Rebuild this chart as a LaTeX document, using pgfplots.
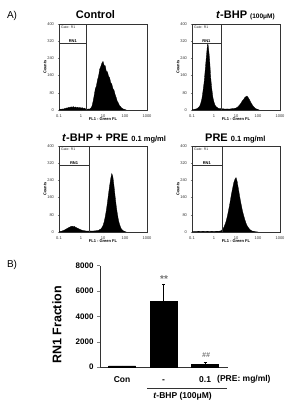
\documentclass[border=0pt]{standalone}
\usepackage{pgfplots}
\pgfplotsset{compat=1.18}
\usepackage{fontspec}
\setmainfont{Liberation Sans}
\pgfplotstableread{
x y
-1.00 2
-0.95 4
-0.90 3
-0.85 5
-0.80 4
-0.75 7
-0.70 6
-0.65 10
-0.60 9
-0.55 13
-0.50 11
-0.45 15
-0.40 12
-0.35 16
-0.30 11
-0.25 14
-0.20 10
-0.15 13
-0.10 9
-0.05 12
0.00 8
0.05 11
0.10 7
0.15 9
0.20 5
0.25 6
0.30 3
0.35 5
0.40 4
0.45 9
0.50 18
0.55 40
0.60 68
0.65 98
0.70 112
0.75 140
0.80 158
0.85 190
0.90 202
0.95 218
1.00 226
1.05 208
1.10 206
1.15 180
1.20 178
1.25 158
1.30 150
1.35 128
1.40 120
1.45 100
1.50 92
1.55 72
1.60 58
1.65 40
1.70 32
1.75 20
1.80 15
1.85 9
1.90 6
1.95 3
2.00 2
2.05 0
}\ctrl
\pgfplotstableread{
x y
-1.00 1
-0.95 2
-0.90 2
-0.85 4
-0.80 5
-0.75 8
-0.70 12
-0.65 18
-0.60 32
-0.55 52
-0.50 88
-0.45 128
-0.40 185
-0.35 245
-0.30 300
-0.28 310
-0.25 288
-0.20 235
-0.15 150
-0.10 98
-0.05 58
0.00 36
0.05 22
0.10 15
0.15 11
0.20 8
0.25 6
0.30 7
0.35 5
0.40 6
0.50 4
0.60 5
0.70 4
0.80 6
0.90 7
1.00 9
1.05 12
1.10 16
1.15 22
1.20 28
1.25 36
1.30 44
1.35 50
1.40 58
1.45 62
1.50 65
1.55 58
1.60 50
1.65 40
1.70 30
1.75 22
1.80 15
1.85 10
1.90 6
1.95 4
2.00 2
2.05 0
}\tbhp
\pgfplotstableread{
x y
-1.00 1
-0.95 2
-0.90 3
-0.85 5
-0.80 7
-0.75 9
-0.70 12
-0.65 15
-0.60 18
-0.55 21
-0.50 23
-0.45 26
-0.40 27
-0.35 25
-0.30 26
-0.25 22
-0.20 20
-0.15 17
-0.10 15
-0.05 12
0.00 10
0.05 8
0.10 7
0.15 6
0.20 5
0.30 4
0.40 5
0.50 4
0.60 5
0.70 6
0.75 7
0.80 8
0.85 11
0.90 14
0.95 20
1.00 30
1.05 46
1.10 70
1.15 100
1.20 136
1.25 176
1.30 214
1.35 248
1.40 272
1.45 256
1.50 214
1.55 166
1.60 122
1.65 86
1.70 56
1.75 36
1.80 21
1.85 12
1.90 7
1.95 4
2.00 2
2.05 0
}\tbhppre
\pgfplotstableread{
x y
-1.00 1
-0.90 2
-0.80 2
-0.70 3
-0.60 2
-0.50 3
-0.40 2
-0.30 3
-0.20 2
-0.10 3
0.00 2
0.10 3
0.20 3
0.25 4
0.30 5
0.35 8
0.40 14
0.45 22
0.50 35
0.55 50
0.60 70
0.65 95
0.70 120
0.75 150
0.80 180
0.85 205
0.90 230
0.95 245
1.00 253
1.05 236
1.10 206
1.15 176
1.20 146
1.25 120
1.30 95
1.35 76
1.40 58
1.45 42
1.50 30
1.55 22
1.60 15
1.65 10
1.70 6
1.75 4
1.80 3
1.90 1
2.00 0
}\pre
\pgfplotsset{
  histo/.style={
    scale only axis, width=88pt, height=86pt,
    xmin=-1, xmax=3, ymin=0, ymax=400,
    xtick={-1,0,1,2,3}, xticklabels={0.1,1,10,100,1000},
    ytick={0,80,160,240,320,400},
    tick pos=left, tick align=outside, major tick length=1.5pt,
    tick label style={font=\fontsize{4}{4}\selectfont, text=black!80},
    /pgf/number format/assume math mode=true,
    axis line style={line width=0.4pt, black!80},
    xlabel={FL1 - Green FL}, ylabel={Counts},
    label style={font=\fontsize{4}{4}\selectfont\bfseries},
    xlabel style={at={(axis description cs:0.5,-0.105)}, anchor=center},
    ylabel style={at={(axis description cs:-0.16,0.5)}, anchor=center},
  },
  gate/.style={black!80, line width=0.4pt},
}
\newcommand{\gatepanel}[1]{%
  \addplot[gate] coordinates {(#1,0) (#1,400)};
  \addplot[gate] coordinates {(-1,310) (#1,310)};
  \node[font=\fontsize{4}{4}\selectfont\bfseries, anchor=south, inner sep=0.6pt] at (axis cs:{(-1+#1)/2},310) {RN1};
  \node[font=\fontsize{3.5}{3.5}\selectfont, anchor=north west, inner sep=1pt, text=black!80] at (rel axis cs:0.01,0.995) {Gate: R1};
}
\begin{document}
\begin{tikzpicture}[x=1pt,y=1pt]
\path[use as bounding box] (0,0) rectangle (287,403);

% panel labels
\node[font=\fontsize{10}{10}\selectfont, anchor=base] at (12,384) {A)};
\node[font=\fontsize{10}{10}\selectfont, anchor=base] at (12,135) {B)};

% titles
\node[font=\fontsize{11}{11}\selectfont\bfseries, anchor=base] at (95.5,384) {Control};
\node[font=\fontsize{11}{11}\selectfont\bfseries, anchor=base west, inner sep=0pt] at (216,384) {\textit{t}-BHP \fontsize{6.5}{6.5}\selectfont(100μM)};
\node[font=\fontsize{11}{11}\selectfont\bfseries, anchor=base west, inner sep=0pt] at (62,261) {\textit{t}-BHP + PRE \fontsize{7.5}{7.5}\selectfont 0.1 mg/ml};
\node[font=\fontsize{11}{11}\selectfont\bfseries, anchor=base west, inner sep=0pt] at (205,261) {PRE \fontsize{7.5}{7.5}\selectfont 0.1 mg/ml};

% histograms
\begin{axis}[histo, at={(59pt,293pt)}, anchor=south west]
\addplot[fill=black, draw=black, line width=0.3pt] table {\ctrl} \closedcycle;
\gatepanel{0.25}
\end{axis}
\begin{axis}[histo, at={(192pt,293pt)}, anchor=south west]
\addplot[fill=black, draw=black, line width=0.3pt] table {\tbhp} \closedcycle;
\gatepanel{0.31}
\end{axis}
\begin{axis}[histo, at={(59pt,171pt)}, anchor=south west]
\addplot[fill=black, draw=black, line width=0.3pt] table {\tbhppre} \closedcycle;
\gatepanel{0.37}
\end{axis}
\begin{axis}[histo, at={(192pt,171pt)}, anchor=south west]
\addplot[fill=black, draw=black, line width=0.3pt] table {\pre} \closedcycle;
\gatepanel{0.35}
\end{axis}

% bar chart
\begin{axis}[at={(100pt,36pt)}, anchor=south west, scale only axis,
  width=128pt, height=101.5pt,
  xmin=-0.53, xmax=2.55, ymin=0, ymax=8000,
  axis x line*=bottom, axis y line*=left,
  axis line style={-, line width=0.5pt, black!80},
  ytick={0,2000,4000,6000,8000},
  /pgf/number format/1000 sep={},
  /pgf/number format/assume math mode=true,
  yticklabel style={font=\fontsize{8}{8}\selectfont\bfseries},
  tick align=outside, major tick length=3pt,
  xtick={0,1,2}, xticklabels={Con,\mbox{-},0.1},
  x tick style={draw=none},
  xticklabel style={font=\fontsize{8.5}{8.5}\selectfont\bfseries, anchor=base, yshift=-12pt},
  ybar, bar width=27pt,
]
\addplot[fill=black, draw=black,
  error bars/.cd, y dir=plus, y explicit,
  error bar style={line width=0.6pt, black},
  error mark options={rotate=90, mark size=1.5pt, line width=0.6pt}]
  coordinates {(0,80) +- (0,0) (1,5200) +- (0,1300) (2,210) +- (0,160)};
\end{axis}

\node[font=\fontsize{12.5}{12.5}\selectfont\bfseries, rotate=90] at (57,78) {RN1 Fraction};
\node[font=\fontsize{8.5}{8.5}\selectfont\bfseries, anchor=base west, inner sep=0pt] at (217,21) {(PRE: mg/ml)};
\draw[line width=0.5pt, black!80] (147,15) -- (227,15);
\node[font=\fontsize{8.5}{8.5}\selectfont\bfseries, anchor=base, inner sep=0pt] at (182.5,5) {\textit{t}-BHP (100μM)};
\node[font=\fontsize{10}{10}\selectfont\bfseries, text=black!55] at (164,124) {**};
\node[font=\fontsize{7}{7}\selectfont\bfseries\itshape, text=black!55] at (206,48) {\#\#};
\end{tikzpicture}
\end{document}
